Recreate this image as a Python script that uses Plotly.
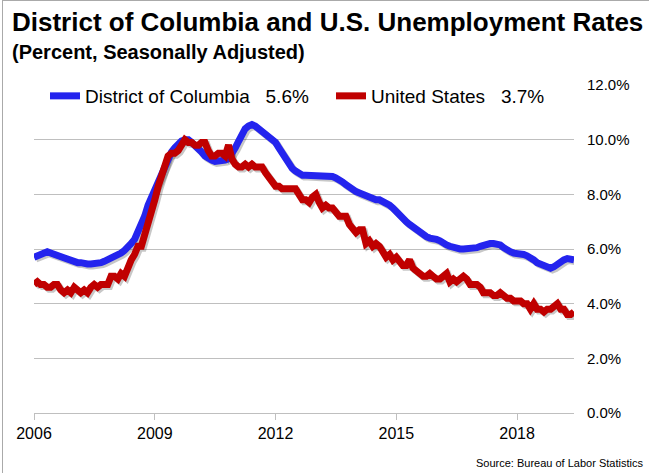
import plotly.graph_objects as go
import pandas as pd

# ---------------- data (monthly, Jan 2006 - Jun 2019) ----------------
dc_rate = [
    5.7, 5.75, 5.8, 5.85, 5.9, 5.85, 5.8, 5.8, 5.75, 5.7, 5.65, 5.6,      # 2006
    5.55, 5.5, 5.5, 5.45, 5.45, 5.45, 5.45, 5.5, 5.5, 5.55, 5.6, 5.65,    # 2007
    5.7, 5.75, 5.85, 5.95, 6.05, 6.2, 6.35, 6.6, 6.85, 7.2, 7.6, 7.9,     # 2008
    8.2, 8.5, 8.8, 9.1, 9.35, 9.55, 9.7, 9.85, 9.95, 10.0, 10.0, 9.9,     # 2009
    9.8, 9.7, 9.55, 9.4, 9.3, 9.25, 9.2, 9.2, 9.2, 9.25, 9.3, 9.45,       # 2010
    9.7, 9.95, 10.2, 10.4, 10.5, 10.55, 10.5, 10.4, 10.3, 10.2, 10.1, 10.0,  # 2011
    9.9, 9.7, 9.5, 9.3, 9.1, 8.95, 8.85, 8.75, 8.7, 8.7, 8.7, 8.7,        # 2012
    8.7, 8.7, 8.7, 8.7, 8.7, 8.65, 8.6, 8.55, 8.45, 8.35, 8.25, 8.2,      # 2013
    8.1, 8.05, 8.0, 7.95, 7.9, 7.85, 7.8, 7.8, 7.75, 7.7, 7.6, 7.5,       # 2014
    7.35, 7.25, 7.1, 7.0, 6.9, 6.8, 6.7, 6.6, 6.5, 6.45, 6.4, 6.4,        # 2015
    6.35, 6.3, 6.2, 6.15, 6.1, 6.05, 6.0, 6.0, 6.0, 6.0, 6.0, 6.0,        # 2016
    6.05, 6.1, 6.15, 6.2, 6.2, 6.2, 6.2, 6.15, 6.05, 5.95, 5.9, 5.85,     # 2017
    5.85, 5.8, 5.8, 5.75, 5.7, 5.6, 5.5, 5.45, 5.4, 5.3, 5.3, 5.35,       # 2018
    5.45, 5.5, 5.6, 5.65, 5.6, 5.6,                                       # 2019
]

us_rate = [
    4.7, 4.8, 4.7, 4.7, 4.6, 4.6, 4.7, 4.7, 4.5, 4.4, 4.5, 4.4,   # 2006
    4.6, 4.5, 4.4, 4.5, 4.4, 4.6, 4.7, 4.6, 4.7, 4.7, 4.7, 5.0,   # 2007
    5.0, 4.9, 5.1, 5.0, 5.4, 5.6, 5.8, 6.1, 6.1, 6.5, 6.8, 7.3,   # 2008
    7.8, 8.3, 8.7, 9.0, 9.4, 9.5, 9.5, 9.6, 9.8, 10.0, 9.9, 9.9,  # 2009
    9.8, 9.8, 9.9, 9.9, 9.6, 9.4, 9.4, 9.5, 9.5, 9.4, 9.8, 9.3,   # 2010
    9.1, 9.0, 9.0, 9.1, 9.0, 9.1, 9.0, 9.0, 9.0, 8.8, 8.6, 8.5,   # 2011
    8.3, 8.3, 8.2, 8.2, 8.2, 8.2, 8.2, 8.0, 7.8, 7.8, 7.7, 7.9,   # 2012
    8.0, 7.7, 7.5, 7.6, 7.5, 7.5, 7.3, 7.2, 7.2, 7.2, 6.9, 6.7,   # 2013
    6.6, 6.7, 6.7, 6.2, 6.3, 6.1, 6.2, 6.1, 5.9, 5.7, 5.8, 5.6,   # 2014
    5.7, 5.5, 5.4, 5.4, 5.6, 5.3, 5.2, 5.1, 5.0, 5.0, 5.1, 5.0,   # 2015
    4.9, 4.9, 5.0, 5.1, 4.8, 4.9, 4.8, 4.9, 5.0, 4.9, 4.7, 4.7,   # 2016
    4.7, 4.6, 4.4, 4.4, 4.4, 4.3, 4.3, 4.4, 4.3, 4.2, 4.2, 4.1,   # 2017
    4.1, 4.1, 4.0, 4.0, 3.8, 4.0, 3.8, 3.8, 3.7, 3.8, 3.8, 3.9,   # 2018
    4.0, 3.8, 3.8, 3.6, 3.6, 3.7,                                 # 2019
]

start_month = "2006-01-01"
tick_years = [2006, 2009, 2012, 2015, 2018]
y_ticks = [0, 2, 4, 6, 8, 10, 12]

series_names = ["District of Columbia", "United States"]
series_colors = ["#2424EE", "#C00000"]

# ---------------- figure ----------------
months = pd.date_range(start_month, periods=len(dc_rate), freq="MS")
FONT = "Liberation Sans, Arial, sans-serif"

W, H = 649, 473
L, R, T, B = 34, 75, 85, 60
pw, ph = W - L - R, H - T - B


def px(x):
    return (x - L) / pw


def py(y):
    return (H - B - y) / ph


fig = go.Figure()

# soft drop shadows beneath the lines
for vals in (dc_rate, us_rate):
    fig.add_trace(go.Scatter(
        x=months + pd.Timedelta(days=17),
        y=[v - 0.07 for v in vals],
        mode="lines",
        line=dict(color="rgba(0,0,0,0.22)", width=7),
        hoverinfo="skip", showlegend=False,
    ))

nbsp = "\u00a0"
for vals, name, color, lg in zip((dc_rate, us_rate), series_names,
                                 series_colors, ("legend", "legend2")):
    fig.add_trace(go.Scatter(
        x=months, y=vals, mode="lines",
        name=f"{name}{nbsp*3}{vals[-1]:.1f}%",
        line=dict(color=color, width=7),
        legend=lg,
    ))

fig.update_layout(
    width=W, height=H,
    margin=dict(l=L, r=R, t=T, b=B, pad=0),
    paper_bgcolor="white", plot_bgcolor="white",
    font=dict(family=FONT, color="#000000"),
    showlegend=True,
    legend=dict(x=px(45), y=py(96), xanchor="left", yanchor="middle",
                orientation="h", bgcolor="rgba(0,0,0,0)",
                font=dict(size=19, family=FONT, color="#000")),
    legend2=dict(x=px(331), y=py(96), xanchor="left", yanchor="middle",
                 orientation="h", bgcolor="rgba(0,0,0,0)",
                 font=dict(size=19, family=FONT, color="#000")),
    xaxis=dict(
        range=[months[0], months[-1]],
        tickvals=[pd.Timestamp(f"{y}-01-01") for y in tick_years],
        ticktext=[str(y) for y in tick_years],
        showgrid=False, showline=True, linecolor="#BFBFBF", linewidth=1,
        ticks="outside", ticklen=6, tickcolor="#BFBFBF", tickwidth=1,
        tickfont=dict(size=16, family=FONT, color="#000"),
        zeroline=False,
    ),
    yaxis=dict(
        side="right", range=[0, 12], tickvals=y_ticks,
        ticktext=[f"{v:.1f}%" for v in y_ticks],
        showgrid=True, gridcolor="#BFBFBF", gridwidth=1,
        showline=False, zeroline=False, ticks="",
        ticklabelstandoff=12,
        tickfont=dict(size=15, family=FONT, color="#000"),
    ),
    annotations=[
        dict(text="<b>District of Columbia and U.S. Unemployment Rates</b>",
             xref="paper", yref="paper", x=px(10), y=py(22),
             xanchor="left", yanchor="middle", showarrow=False,
             font=dict(size=26, family=FONT, color="#000")),
        dict(text="<b>(Percent, Seasonally Adjusted)</b>",
             xref="paper", yref="paper", x=px(10), y=py(52),
             xanchor="left", yanchor="middle", showarrow=False,
             font=dict(size=20, family=FONT, color="#000")),
        dict(text="Source: Bureau of Labor Statistics",
             xref="paper", yref="paper", x=px(645), y=py(463),
             xanchor="right", yanchor="middle", showarrow=False,
             font=dict(size=11, family=FONT, color="#000")),
    ],
    shapes=[
        dict(type="line", xref="paper", yref="paper",
             x0=px(2.5), x1=px(2.5), y0=py(0), y1=py(H),
             line=dict(color="#AAAAAA", width=1)),
        dict(type="line", xref="paper", yref="paper",
             x0=px(2.5), x1=px(W), y0=py(0.5), y1=py(0.5),
             line=dict(color="#AAAAAA", width=1)),
    ],
)

fig.write_html("out.html")
